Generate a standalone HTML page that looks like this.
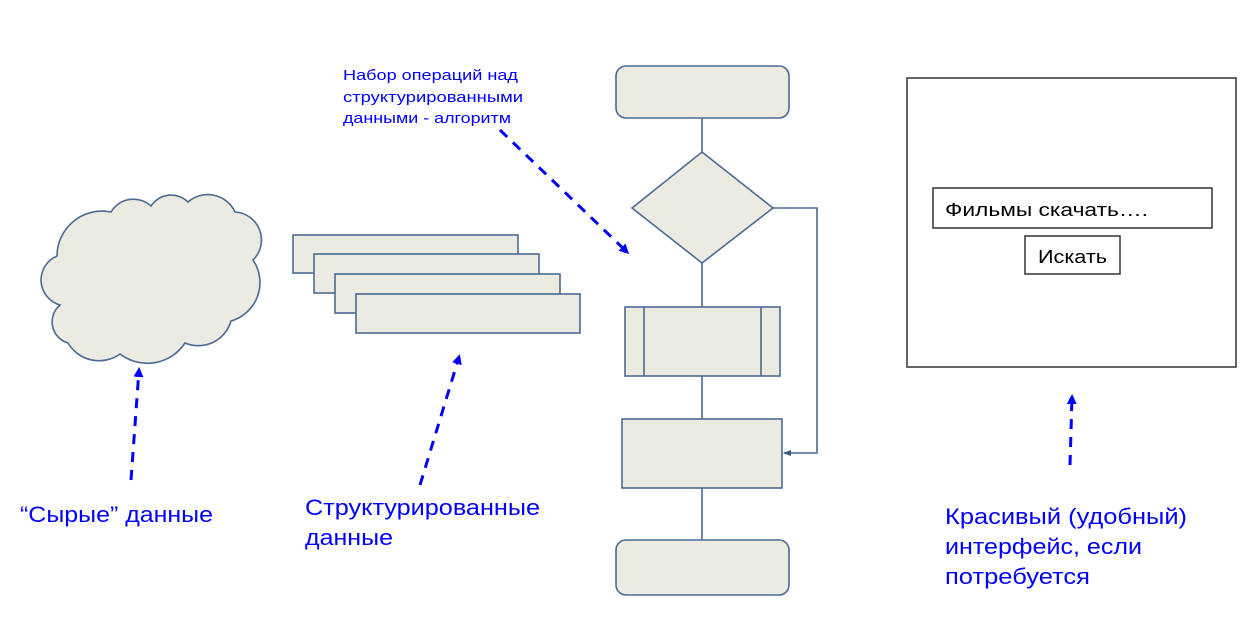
<!DOCTYPE html>
<html><head><meta charset="utf-8"><style>
body{margin:0;background:#fff;width:1254px;height:639px;overflow:hidden}
svg{display:block}
text{font-family:"Liberation Sans",Arial,sans-serif}
</style></head><body>
<svg width="1254" height="639" viewBox="0 0 1254 639">
<defs><marker id="ah" markerWidth="10" markerHeight="10" refX="7" refY="5" orient="auto" markerUnits="userSpaceOnUse"><path d="M0,0 L10,5 L0,10 Z" fill="#0000ff"/></marker>
<marker id="sa" markerWidth="8" markerHeight="8" refX="7" refY="4" orient="auto" markerUnits="userSpaceOnUse"><path d="M0,1 L8,4 L0,7 Z" fill="#3a5a85"/></marker></defs>
<g fill="#ecebe1" stroke="#4a6a95" stroke-width="1.6">
<path d="M68,343 A22,22 0 0 1 60,305 A26,26 0 0 1 57,256 A45,45 0 0 1 111,212 A26,26 0 0 1 151,206 A24,24 0 0 1 188,202 A30,30 0 0 1 235,212 A28,28 0 0 1 253,260 A40,40 0 0 1 231,321 A34,34 0 0 1 185,343 A45,45 0 0 1 120,354 A36,36 0 0 1 68,343 Z"/>
<rect x="293" y="235" width="225" height="38"/>
<rect x="314" y="254" width="225" height="39"/>
<rect x="335" y="274" width="225" height="39"/>
<rect x="356" y="294" width="224" height="39"/>
<line x1="702" y1="118" x2="702" y2="152"/>
<line x1="702" y1="263" x2="702" y2="307"/>
<line x1="702" y1="376" x2="702" y2="419"/>
<line x1="702" y1="488" x2="702" y2="540"/>
<polyline fill="none" points="773,208 817,208 817,453 784,453" marker-end="url(#sa)"/>
<rect x="616" y="66" width="173" height="52" rx="10"/>
<polygon points="702,152 773,208 702,263 632,208"/>
<rect x="625" y="307" width="155" height="69"/>
<line x1="644" y1="307" x2="644" y2="376"/>
<line x1="761" y1="307" x2="761" y2="376"/>
<rect x="622" y="419" width="160" height="69"/>
<rect x="616" y="540" width="173" height="55" rx="10"/>
</g>
<rect x="907" y="78" width="329" height="289" fill="#fff" stroke="#333" stroke-width="1.5"/>
<rect x="933" y="188" width="279" height="40" fill="#fff" stroke="#333" stroke-width="1.5"/>
<rect x="1025" y="236" width="95" height="38" fill="#fff" stroke="#333" stroke-width="1.5"/>
<text x="945" y="216" font-size="18" textLength="203" lengthAdjust="spacingAndGlyphs">Фильмы скачать….</text>
<text x="1038" y="263" font-size="18" textLength="69" lengthAdjust="spacingAndGlyphs">Искать</text>
<g stroke="#0000ff" stroke-width="3" stroke-dasharray="10,8" fill="none">
<line x1="131" y1="480" x2="139" y2="370" marker-end="url(#ah)"/>
<line x1="420" y1="485" x2="459" y2="357" marker-end="url(#ah)"/>
<line x1="500" y1="130" x2="627" y2="252" marker-end="url(#ah)"/>
<line x1="1070" y1="465" x2="1072" y2="397" marker-end="url(#ah)"/>
</g>
<g fill="#0000ff" font-size="22">
<text x="20" y="522" textLength="193" lengthAdjust="spacingAndGlyphs">“Сырые” данные</text>
<text x="305" y="515" textLength="235" lengthAdjust="spacingAndGlyphs">Структурированные</text>
<text x="305" y="545" textLength="88" lengthAdjust="spacingAndGlyphs">данные</text>
<text x="945" y="524" textLength="242" lengthAdjust="spacingAndGlyphs">Красивый (удобный)</text>
<text x="945" y="554" textLength="197" lengthAdjust="spacingAndGlyphs">интерфейс, если</text>
<text x="945" y="584" textLength="145" lengthAdjust="spacingAndGlyphs">потребуется</text>
</g>
<g fill="#0000ff" font-size="15">
<text x="343" y="80" textLength="175" lengthAdjust="spacingAndGlyphs">Набор операций над</text>
<text x="343" y="102" textLength="180" lengthAdjust="spacingAndGlyphs">структурированными</text>
<text x="343" y="123" textLength="168" lengthAdjust="spacingAndGlyphs">данными - алгоритм</text>
</g>
</svg>
</body></html>
